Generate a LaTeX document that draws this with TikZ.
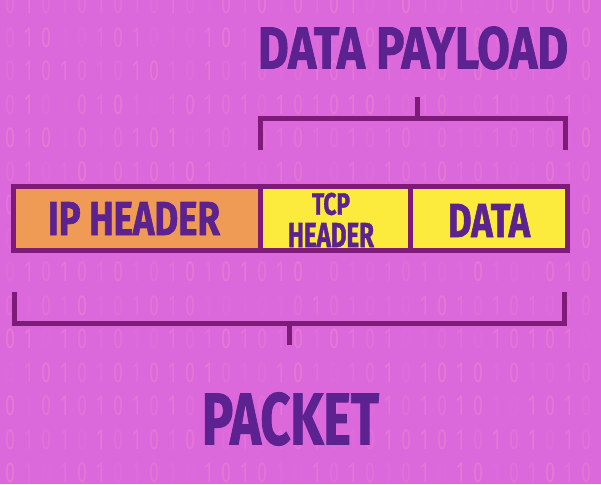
\documentclass[tikz,border=0pt]{standalone}
\usepackage{fontspec}
\usepackage{graphicx}
\setmainfont{Fira Sans}[BoldFeatures={FakeBold=1.5}]
\newfontfamily\digfont[FakeStretch=0.62]{Fira Sans}
\definecolor{bg}{HTML}{DC69DC}
\definecolor{dig}{HTML}{F08CC8}
\definecolor{frame}{HTML}{7E1B79}
\definecolor{ink}{HTML}{5C2290}
\definecolor{ipfill}{HTML}{F09B55}
\definecolor{tcpfill}{HTML}{FCEA3D}
\newcommand\lbl[3]{\resizebox{#1pt}{#2pt}{\bfseries #3}}
\newcommand\binrow{\digfont\fontsize{29}{29}\selectfont
  \foreach \cc in {0,...,32}{\pgfmathrandominteger{\rr}{5}{50}\pgfmathtruncatemacro{\dd}{mod(\cc,2)}\makebox[18pt]{\textcolor{dig!\rr!bg}{\dd}}}}
\tikzset{
  seg/.style={draw=frame, line width=5pt, minimum height=64pt, inner sep=0pt, line join=miter},
  txt/.style={inner sep=0pt, text=ink},
  brace/.style={draw=frame, line width=5pt, line join=miter},
  binary/.style={inner sep=0pt, anchor=west}
}
\begin{document}
\begin{tikzpicture}[x=1pt,y=-1pt]
\useasboundingbox (0,0) rectangle (601,484);
\fill[bg] (0,0) rectangle (601,484);
\pgfmathsetseed{7}
\foreach \k in {0,...,14}{
  \node[binary] (row\k) at (1,{4+33.5*\k}) {\binrow};
}
% bar segments
\node[seg, fill=ipfill, minimum width=246.5pt] (ip) at (136.75,218.5) {};
\node[seg, fill=tcpfill, minimum width=150.5pt] (tcp) at (335.25,218.5) {};
\node[seg, fill=tcpfill, minimum width=157pt] (data) at (489,218.5) {};
% texts
\node[txt] (iptext) at (134,218.5) {\lbl{172}{33}{IP HEADER}};
\node[txt] (tcptext) at (331,204) {\lbl{38}{22}{TCP}};
\node[txt] (hdrtext) at (331,235) {\lbl{86}{24}{HEADER}};
\node[txt] (datatext) at (489,220.5) {\lbl{82}{33}{DATA}};
\node[txt] (payload) at (413,48) {\lbl{310}{42}{DATA PAYLOAD}};
\node[txt] (packet) at (290.5,419) {\lbl{177}{52}{PACKET}};
% top bracket
\coordinate (tl) at (260.7,150);
\coordinate (tr) at (565.7,150);
\coordinate (tm) at (417,118.5);
\coordinate (ts) at (417,97);
\draw[brace] (tl) |- (tm) -| (tr);
\draw[brace] (tm) -- (ts);
% bottom bracket
\coordinate (bl) at (14.8,291.7);
\coordinate (br) at (564,291.7);
\coordinate (bm) at (289.7,323);
\coordinate (bs) at (289.7,345);
\draw[brace] (bl) |- (bm) -| (br);
\draw[brace] (bm) -- (bs);
\end{tikzpicture}
\end{document}
